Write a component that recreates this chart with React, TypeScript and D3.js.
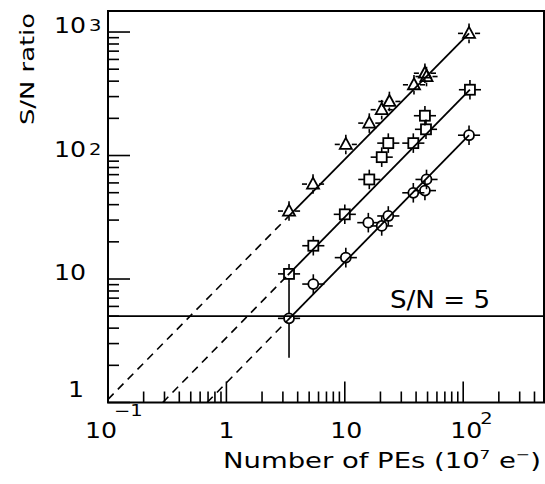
import React from 'react';
import * as d3 from 'd3';

// ---- data ----
const triX = [3.38, 5.39, 10.2, 16.1, 20.5, 23.8, 38.4, 47.5, 49, 112];
const triY = [35.5, 58.7, 123, 183, 235, 274, 374, 464, 436, 975];
const sqX = [3.38, 5.42, 10.0, 16.1, 20.5, 23.3, 37.9, 47.5, 48.5, 114];
const sqY = [11.0, 18.6, 33.4, 64, 97, 126, 126, 210, 163, 341];
const ciX = [3.38, 5.42, 10.2, 15.8, 20.5, 23.3, 37.9, 47.5, 49, 112];
const ciY = [4.8, 9.1, 14.9, 28.6, 26.9, 32.4, 49.9, 52, 64, 146];

// fitted lines (two anchor points each, data coords)
const triFit = [[0.493, 5], [112, 975]];
const sqFit = [[3.38, 11], [114, 341]];
const ciFit = [[3.56, 5], [112, 146]];
const solidFrom = 3.3;

// relative errors
const errX = 1.24;
const errY = 1.2;
const ciFirstErr = [2.3, 9.2];

const snLevel = 5;
const xMajor = [0.1, 1, 10, 100];
const yMajor = [1, 10, 100, 1000];

const W = 545, H = 484;
const L = 108, R = 544, T = 11, B = 402.5;
const xMax = Math.pow(10, (R - L) / 118.4 - 1);

const FONT = "'DejaVu Sans', 'Liberation Sans', Arial, sans-serif";

export default function App() {
  const x = d3.scaleLog().domain([0.1, xMax]).range([L, R]);
  const y = d3.scaleLog().domain([1, 1480]).range([B, T]);

  const fitY = (fit: number[][], xv: number) => {
    const lx1 = Math.log10(fit[0][0]), ly1 = Math.log10(fit[0][1]);
    const lx2 = Math.log10(fit[1][0]), ly2 = Math.log10(fit[1][1]);
    return Math.pow(10, ly1 + (ly2 - ly1) * (Math.log10(xv) - lx1) / (lx2 - lx1));
  };
  const fitXatY1 = (fit: number[][]) => {
    const lx1 = Math.log10(fit[0][0]), ly1 = Math.log10(fit[0][1]);
    const lx2 = Math.log10(fit[1][0]), ly2 = Math.log10(fit[1][1]);
    return Math.pow(10, lx1 + (0 - ly1) * (lx2 - lx1) / (ly2 - ly1));
  };

  const fitPaths = (fit: number[][], xEnd: number, key: string) => {
    const xs0 = Math.max(0.1, fitXatY1(fit));
    const seg = d3.line<number>().x(d => x(d)).y(d => y(fitY(fit, d)));
    return (
      <g key={key}>
        <path d={seg([xs0, solidFrom]) || ''} stroke="#000" strokeWidth={1.6} strokeDasharray="8,6" fill="none" />
        <path d={seg([solidFrom, xEnd]) || ''} stroke="#000" strokeWidth={1.8} fill="none" />
      </g>
    );
  };

  const errBars = (xv: number, yv: number, half: number, lo?: number, hi?: number) => {
    const cx = x(xv), cy = y(yv);
    const xl = x(xv / errX), xr = x(xv * errX);
    const yt = y(hi ?? yv * errY), yb = y(lo ?? yv / errY);
    return (
      <g stroke="#000" strokeWidth={1.6}>
        <line x1={xl} x2={cx - half} y1={cy} y2={cy} />
        <line x1={cx + half} x2={xr} y1={cy} y2={cy} />
        <line x1={cx} x2={cx} y1={yt} y2={cy - half} />
        <line x1={cx} x2={cx} y1={cy + half} y2={yb} />
      </g>
    );
  };

  const xMinor: number[] = [];
  for (const d of [0.1, 1, 10, 100]) for (let k = 2; k <= 9; k++) if (d * k < xMax) xMinor.push(d * k);
  const yMinor: number[] = [];
  for (const d of [1, 10, 100]) for (let k = 2; k <= 9; k++) yMinor.push(d * k);

  return (
    <svg width={W} height={H} style={{ position: 'absolute', left: 0, top: 0, background: '#fff' }}>
      <rect x={0} y={0} width={W} height={H} fill="#fff" />
      {/* frame */}
      <rect x={L} y={T} width={R - L} height={B - T} fill="none" stroke="#000" strokeWidth={2} />
      {/* ticks */}
      <g stroke="#000" strokeWidth={1.6}>
        {xMajor.map(v => <line key={'xM' + v} x1={x(v)} x2={x(v)} y1={B} y2={B - 21} />)}
        {xMinor.map(v => <line key={'xm' + v} x1={x(v)} x2={x(v)} y1={B} y2={B - 11} />)}
        {yMajor.map(v => <line key={'yM' + v} x1={L} x2={L + 22} y1={y(v)} y2={y(v)} />)}
        {yMinor.map(v => <line key={'ym' + v} x1={L} x2={L + 11} y1={y(v)} y2={y(v)} />)}
      </g>
      {/* S/N = 5 line */}
      <line x1={L} x2={R} y1={y(snLevel)} y2={y(snLevel)} stroke="#000" strokeWidth={1.8} />
      <text x={390} y={308} fontFamily={FONT} fontSize={24} textLength={100} lengthAdjust="spacingAndGlyphs">S/N = 5</text>

      {/* fits */}
      {fitPaths(triFit, triX[triX.length - 1], 'ft')}
      {fitPaths(sqFit, sqX[sqX.length - 1], 'fs')}
      {fitPaths(ciFit, ciX[ciX.length - 1], 'fc')}

      {/* triangles */}
      {triX.map((xv, i) => {
        const cx = x(xv), cy = y(triY[i]);
        return (
          <g key={'t' + i}>
            {errBars(xv, triY[i], 6)}
            <path d={`M${cx},${cy - 6.5}L${cx + 6},${cy + 4.5}L${cx - 6},${cy + 4.5}Z`} fill="none" stroke="#000" strokeWidth={1.8} />
          </g>
        );
      })}
      {/* squares */}
      {sqX.map((xv, i) => {
        const cx = x(xv), cy = y(sqY[i]);
        return (
          <g key={'s' + i}>
            {errBars(xv, sqY[i], 5)}
            <rect x={cx - 5} y={cy - 5} width={10} height={10} fill="none" stroke="#000" strokeWidth={1.8} />
          </g>
        );
      })}
      {/* circles */}
      {ciX.map((xv, i) => {
        const cx = x(xv), cy = y(ciY[i]);
        return (
          <g key={'c' + i}>
            {i === 0 ? errBars(xv, ciY[i], 5, ciFirstErr[0], ciFirstErr[1]) : errBars(xv, ciY[i], 5)}
            <circle cx={cx} cy={cy} r={5} fill="none" stroke="#000" strokeWidth={1.8} />
          </g>
        );
      })}

      {/* y tick labels */}
      <g fontFamily={FONT} fontSize={21}>
        {yMajor.map(v => {
          const ty = y(v);
          if (v === 1) return <text key={'yl' + v} transform={`translate(84,${ty - 6}) scale(1.2,1)`} textAnchor="end">1</text>;
          const exp = Math.round(Math.log10(v));
          return (
            <g key={'yl' + v}>
              <text transform={`translate(86,${ty + 1}) scale(1.2,1)`} textAnchor="end">10</text>
              {exp > 1 && <text transform={`translate(89,${ty - 1}) scale(1.3,1)`} fontSize={15}>{exp}</text>}
            </g>
          );
        })}
      </g>
      {/* x tick labels */}
      <g fontFamily={FONT} fontSize={21}>
        <text transform={`translate(${x(0.1) - 7},438) scale(1.2,1)`} textAnchor="middle">10</text>
        <text transform={`translate(${x(0.1) + 6},416) scale(1.3,1)`} fontSize={15}>−1</text>
        <text transform={`translate(${x(1)},438) scale(1.2,1)`} textAnchor="middle">1</text>
        <text transform={`translate(${x(10) + 1.5},438) scale(1.2,1)`} textAnchor="middle">10</text>
        <text transform={`translate(${x(100) + 3},438) scale(1.2,1)`} textAnchor="middle">10</text>
        <text transform={`translate(${x(100) + 17},424) scale(1.3,1)`} fontSize={15}>2</text>
      </g>
      {/* axis titles */}
      <text x={223} y={468} fontFamily={FONT} fontSize={21} textLength={318} lengthAdjust="spacingAndGlyphs">
        Number of PEs (10<tspan dy={-9} fontSize={13}>7</tspan><tspan dy={9}> e</tspan><tspan dy={-9} fontSize={13}>−</tspan><tspan dy={9}>)</tspan>
      </text>
      <text transform="translate(34,69) rotate(-90)" textAnchor="middle" fontFamily={FONT} fontSize={19} textLength={112} lengthAdjust="spacingAndGlyphs">S/N ratio</text>
    </svg>
  );
}
